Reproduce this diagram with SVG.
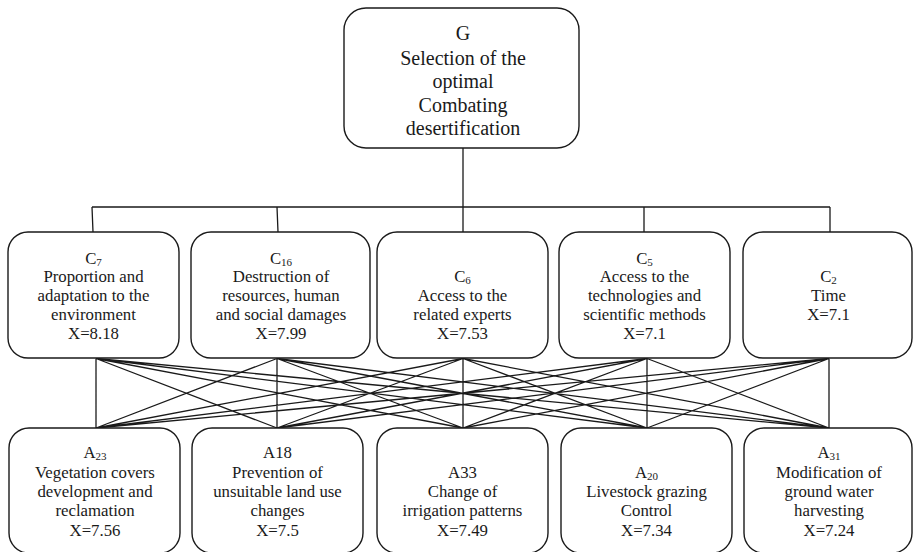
<svg xmlns="http://www.w3.org/2000/svg" width="913" height="552" viewBox="0 0 913 552" font-family="'Liberation Serif', 'DejaVu Serif', serif">
<style>
.box{fill:#fff;stroke:#1a1a1a;stroke-width:1.4}
.ln{fill:none;stroke:#1a1a1a;stroke-width:1.3}
text{font-family:'Liberation Serif','DejaVu Serif',serif;fill:#1a1a1a;text-anchor:middle}
.t{font-size:20px}
.m{font-size:16.8px}
.s{font-size:11px}
</style>
<rect width="913" height="552" fill="#fff"/>
<g id="connectors">
<path class="ln" d="M463,148 V207 M92,207 H830 M92,207 L93,232 M277,207 L278,232 M463,207 V232 M644,207 V232 M830,207 V232"/>
<path class="ln" d="M96,358.5 L96,428 M96,358.5 L277,428 M96,358.5 L463,428 M96,358.5 L647,428 M96,358.5 L829,428
M277,358.5 L96,428 M277,358.5 L277,428 M277,358.5 L463,428 M277,358.5 L647,428 M277,358.5 L829,428
M463,358.5 L96,428 M463,358.5 L277,428 M463,358.5 L463,428 M463,358.5 L647,428 M463,358.5 L829,428
M647,358.5 L96,428 M647,358.5 L277,428 M647,358.5 L463,428 M647,358.5 L647,428 M647,358.5 L829,428
M829,358.5 L96,428 M829,358.5 L277,428 M829,358.5 L463,428 M829,358.5 L647,428 M829,358.5 L829,428"/>
</g>
<g id="G">
<rect class="box" x="344" y="8" width="235" height="140" rx="22"/>
<text class="t" x="463" y="39.5">G</text>
<text class="t" x="463" y="65">Selection of the</text>
<text class="t" x="463" y="88">optimal</text>
<text class="t" x="463" y="111.5">Combating</text>
<text class="t" x="463" y="134.5">desertification</text>
</g>
<g id="C7">
<rect class="box" x="8" y="232" width="171" height="126" rx="20"/>
<text class="m" x="93.5" y="263.5">C<tspan class="s" dy="2">7</tspan></text>
<text class="m" x="93.5" y="282.3">Proportion and</text>
<text class="m" x="93.5" y="301">adaptation to the</text>
<text class="m" x="93.5" y="319.8">environment</text>
<text class="m" x="93.5" y="338.5">X=8.18</text>
</g>
<g id="C16">
<rect class="box" x="191" y="232" width="179" height="126" rx="20"/>
<text class="m" x="281" y="263.5">C<tspan class="s" dy="2">16</tspan></text>
<text class="m" x="281" y="282.3">Destruction of</text>
<text class="m" x="281" y="301">resources, human</text>
<text class="m" x="281" y="319.8">and social damages</text>
<text class="m" x="281" y="338.5">X=7.99</text>
</g>
<g id="C6">
<rect class="box" x="377" y="232" width="171" height="126" rx="20"/>
<text class="m" x="462.5" y="282.3">C<tspan class="s" dy="2">6</tspan></text>
<text class="m" x="462.5" y="301">Access to the</text>
<text class="m" x="462.5" y="319.8">related experts</text>
<text class="m" x="462.5" y="338.5">X=7.53</text>
</g>
<g id="C5">
<rect class="box" x="559" y="232" width="171" height="126" rx="20"/>
<text class="m" x="644.5" y="263.5">C<tspan class="s" dy="2">5</tspan></text>
<text class="m" x="644.5" y="282.3">Access to the</text>
<text class="m" x="644.5" y="301">technologies and</text>
<text class="m" x="644.5" y="319.8">scientific methods</text>
<text class="m" x="644.5" y="338.5">X=7.1</text>
</g>
<g id="C2">
<rect class="box" x="743" y="232" width="169" height="126" rx="20"/>
<text class="m" x="828.5" y="282.3">C<tspan class="s" dy="2">2</tspan></text>
<text class="m" x="828.5" y="301">Time</text>
<text class="m" x="828.5" y="319.8">X=7.1</text>
</g>
<g id="A23">
<rect class="box" x="9" y="428" width="171" height="125" rx="20"/>
<text class="m" x="95" y="458.3">A<tspan class="s" dy="2">23</tspan></text>
<text class="m" x="95" y="477.7">Vegetation covers</text>
<text class="m" x="95" y="497">development and</text>
<text class="m" x="95" y="516.3">reclamation</text>
<text class="m" x="95" y="535.7">X=7.56</text>
</g>
<g id="A18">
<rect class="box" x="192" y="428" width="171" height="125" rx="20"/>
<text class="m" x="277.5" y="458.3">A18</text>
<text class="m" x="277.5" y="477.7">Prevention of</text>
<text class="m" x="277.5" y="497">unsuitable land use</text>
<text class="m" x="277.5" y="516.3">changes</text>
<text class="m" x="277.5" y="535.7">X=7.5</text>
</g>
<g id="A33">
<rect class="box" x="377" y="428" width="171" height="125" rx="20"/>
<text class="m" x="462.5" y="477.7">A33</text>
<text class="m" x="462.5" y="497">Change of</text>
<text class="m" x="462.5" y="516.3">irrigation patterns</text>
<text class="m" x="462.5" y="535.7">X=7.49</text>
</g>
<g id="A20">
<rect class="box" x="561" y="428" width="171" height="125" rx="20"/>
<text class="m" x="646.5" y="477.7">A<tspan class="s" dy="2">20</tspan></text>
<text class="m" x="646.5" y="497">Livestock grazing</text>
<text class="m" x="646.5" y="516.3">Control</text>
<text class="m" x="646.5" y="535.7">X=7.34</text>
</g>
<g id="A31">
<rect class="box" x="744" y="428" width="168" height="125" rx="20"/>
<text class="m" x="829" y="458.3">A<tspan class="s" dy="2">31</tspan></text>
<text class="m" x="829" y="477.7">Modification of</text>
<text class="m" x="829" y="497">ground water</text>
<text class="m" x="829" y="516.3">harvesting</text>
<text class="m" x="829" y="535.7">X=7.24</text>
</g>
</svg>
